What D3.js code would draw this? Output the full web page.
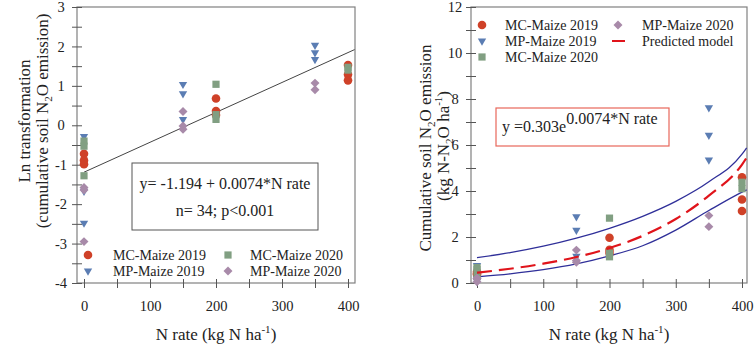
<!DOCTYPE html>
<html>
<head>
<meta charset="utf-8">
<script src="https://cdn.jsdelivr.net/npm/d3@7"></script>
<style>
  body { margin: 0; background: #fff; }
  svg, svg text { font-family: "Liberation Serif", "Times New Roman", serif; }
</style>
</head>
<body>
<svg id="chart" width="754" height="349" font-family="Liberation Serif"></svg>
<script>
// N rates and values (left: ln, right: kg N-N2O/ha)
const seriesNames = ["MC-Maize 2019", "MP-Maize 2019", "MC-Maize 2020", "MP-Maize 2020"];

const mc2019N  = [0, 0, 0, 200, 200, 200, 400, 400, 400];
const mc2019Ln = [-0.72, -0.89, -0.99, 0.68, 0.36, 0.26, 1.53, 1.29, 1.14];
const mc2019Kg = [0.49, 0.41, 0.37, 1.97, 1.44, 1.30, 4.60, 3.63, 3.13];

const mp2019N  = [0, 0, 0, 150, 150, 150, 350, 350, 350];
const mp2019Ln = [-0.28, -1.67, -2.48, 1.04, 0.80, 0.15, 2.03, 1.84, 1.67];
const mp2019Kg = [0.76, 0.19, 0.08, 2.88, 2.30, 1.17, 7.62, 6.43, 5.35];

const mc2020N  = [0, 0, 0, 200, 200, 200, 400, 400];
const mc2020Ln = [-0.40, -0.53, -1.28, 1.04, 0.27, 0.15, 1.47, 1.40];
const mc2020Kg = [0.67, 0.59, 0.28, 2.82, 1.30, 1.14, 4.38, 4.10];

const mp2020N  = [0, 0, 0, 150, 150, 150, 350, 350];
const mp2020Ln = [-1.58, -1.64, -2.95, 0.35, -0.02, -0.10, 1.07, 0.90];
const mp2020Kg = [0.21, 0.19, 0.05, 1.43, 0.98, 0.90, 2.93, 2.45];

// fitted line on the left panel (end points)
const regN  = [0, 410];
const regLn = [-1.19, 1.92];

// predicted model and its band on the right panel
const curveN    = [0, 50, 100, 150, 200, 250, 300, 350, 400, 407];
const predicted = [0.45, 0.62, 0.84, 1.13, 1.52, 2.05, 2.78, 3.80, 5.15, 5.45];
const upperBand = [1.10, 1.32, 1.60, 1.95, 2.38, 2.90, 3.55, 4.40, 5.60, 5.88];
const lowerBand = [0.27, 0.40, 0.58, 0.83, 1.18, 1.62, 2.30, 3.15, 3.95, 4.05];

const xTicks = d3.range(0, 401, 50);

const svg = d3.select('#chart');
const FONT = '"Liberation Serif", "Times New Roman", serif';

const colors = ['#cf4128', '#5b7db3', '#819f82', '#a88aa9'];
const symbols = [
  { type: d3.symbolCircle, size: 58, rotate: 0 },
  { type: d3.symbolTriangle, size: 30, rotate: 180 },
  { type: d3.symbolSquare, size: 52, rotate: 0 },
  { type: d3.symbolSquare, size: 40, rotate: 45 }
];

const series = [
  { n: mc2019N, ln: mc2019Ln, kg: mc2019Kg },
  { n: mp2019N, ln: mp2019Ln, kg: mp2019Kg },
  { n: mc2020N, ln: mc2020Ln, kg: mc2020Kg },
  { n: mp2020N, ln: mp2020Ln, kg: mp2020Kg }
].map((s, i) => Object.assign(s, { name: seriesNames[i], color: colors[i], sym: symbols[i] }));

function marker(g, s, x, y) {
  g.append('path')
    .attr('d', d3.symbol().type(s.sym.type).size(s.sym.size)())
    .attr('transform', `translate(${x},${y}) rotate(${s.sym.rotate})`)
    .attr('fill', s.color);
}

function label(x, y, size) {
  return svg.append('text')
    .attr('x', x).attr('y', y)
    .attr('font-family', FONT).attr('font-size', size).attr('fill', '#222');
}

function drawAxes(frame, x, y, yTicks, isLabelled) {
  svg.append('rect')
    .attr('x', frame.left).attr('y', frame.top)
    .attr('width', frame.right - frame.left)
    .attr('height', frame.bottom - frame.top)
    .attr('fill', 'none').attr('stroke', '#808080').attr('stroke-width', 1.2);

  const gx = svg.append('g')
    .attr('transform', `translate(0,${frame.bottom})`)
    .call(d3.axisBottom(x).tickValues(xTicks).tickSize(5)
      .tickFormat(d => d % 100 === 0 ? String(d) : ''));
  gx.select('.domain').remove();
  gx.attr('font-family', FONT).attr('font-size', 14.5).attr('color', '#222');
  gx.selectAll('.tick line').attr('y1', -4).attr('y2', 5).attr('stroke', '#555');
  gx.selectAll('.tick text').attr('y', 18);

  const gy = svg.append('g')
    .attr('transform', `translate(${frame.left},0)`)
    .call(d3.axisLeft(y).tickValues(yTicks).tickSize(5)
      .tickFormat(d => isLabelled(d) ? String(d) : ''));
  gy.select('.domain').remove();
  gy.attr('font-family', FONT).attr('font-size', 14.5).attr('color', '#222');
  gy.selectAll('.tick line').attr('x1', 5).attr('x2', -5).attr('stroke', '#555');
  gy.selectAll('.tick text').attr('x', -16).attr('text-anchor', 'middle');
}

function xTitle(cx) {
  const t = label(cx, 340, 17).attr('text-anchor', 'middle');
  t.append('tspan').text('N rate (kg N ha');
  t.append('tspan').attr('font-size', 11).attr('dy', -7).text('-1');
  t.append('tspan').attr('dy', 7).text(')');
}

function yTitle(cx, cy) {
  return svg.append('text')
    .attr('transform', `translate(${cx},${cy}) rotate(-90)`)
    .attr('text-anchor', 'middle')
    .attr('font-family', FONT).attr('font-size', 17).attr('fill', '#222');
}

// ---------- left panel ----------
const leftFrame = { left: 77, right: 355, top: 7, bottom: 283 };
const xL = d3.scaleLinear().domain([0, 400]).range([84, 348]);
const yL = d3.scaleLinear().domain([-4, 3]).range([leftFrame.bottom, leftFrame.top]);

drawAxes(leftFrame, xL, yL, d3.range(-4, 3.01, 0.5), d => d % 1 === 0);

svg.append('path')
  .attr('d', d3.line().x(d => xL(d[0])).y(d => yL(d[1]))(regN.map((n, i) => [n, regLn[i]])))
  .attr('fill', 'none').attr('stroke', '#444').attr('stroke-width', 1);

const leftPts = svg.append('g');
series.forEach(s => s.n.forEach((n, i) => marker(leftPts, s, xL(n), yL(s.ln[i]))));

svg.append('rect')
  .attr('x', 132).attr('y', 163).attr('width', 186).attr('height', 67)
  .attr('fill', '#fff').attr('stroke', '#555').attr('stroke-width', 1);
label(225, 189, 16).attr('text-anchor', 'middle').text('y= -1.194 + 0.0074*N rate');
label(225, 216, 16).attr('text-anchor', 'middle').text('n= 34; p<0.001');

const leftLegendPos = [[88, 255], [88, 271], [228, 255], [228, 271]];
const leftLegend = svg.append('g');
series.forEach((s, i) => {
  const [lx, ly] = leftLegendPos[i];
  marker(leftLegend, s, lx, ly);
  label(lx + (i < 2 ? 25 : 22), ly + 5, 14).text(s.name);
});

yTitle(30, 121).text('Ln transformation');
const ytL2 = yTitle(48, 121);
ytL2.append('tspan').text('(cumulative soil N');
ytL2.append('tspan').attr('font-size', 11).attr('dy', 4).text('2');
ytL2.append('tspan').attr('dy', -4).text('O emission)');

xTitle(216);

// ---------- right panel ----------
const rightFrame = { left: 471, right: 747, top: 7, bottom: 283 };
const xR = d3.scaleLinear().domain([0, 400]).range([477, 742]);
const yR = d3.scaleLinear().domain([0, 12]).range([rightFrame.bottom, rightFrame.top]);

drawAxes(rightFrame, xR, yR, d3.range(0, 13, 1), d => d % 2 === 0);

const curve = d3.line().curve(d3.curveMonotoneX).x(d => xR(d[0])).y(d => yR(d[1]));
[upperBand, lowerBand].forEach(band => {
  svg.append('path')
    .attr('d', curve(curveN.map((n, i) => [n, band[i]])))
    .attr('fill', 'none').attr('stroke', '#2f2f99').attr('stroke-width', 1.3);
});

const rightPts = svg.append('g');
series.forEach(s => s.n.forEach((n, i) => marker(rightPts, s, xR(n), yR(s.kg[i]))));

svg.append('path')
  .attr('d', curve(curveN.map((n, i) => [n, predicted[i]])))
  .attr('fill', 'none').attr('stroke', '#e0141b').attr('stroke-width', 2.2)
  .attr('stroke-dasharray', '15,7');

const rightLegendPos = [[482, 25], [482, 41], [482, 57], [618, 25]];
const rightLegend = svg.append('g');
series.forEach((s, i) => {
  const [lx, ly] = rightLegendPos[i];
  marker(rightLegend, s, lx, ly);
  label(lx + (i < 3 ? 23 : 24), ly + 5, 14).text(s.name);
});
rightLegend.append('line')
  .attr('x1', 612).attr('x2', 625).attr('y1', 41).attr('y2', 41)
  .attr('stroke', '#e0141b').attr('stroke-width', 2);
label(642, 46, 14).text('Predicted model');

svg.append('rect')
  .attr('x', 496).attr('y', 108).attr('width', 173).attr('height', 38)
  .attr('fill', 'none').attr('stroke', '#e8675a').attr('stroke-width', 1.2);
const eqR = label(502, 132, 16);
eqR.append('tspan').text('y =0.303e');
eqR.append('tspan').attr('dy', -8).text('0.0074*N rate');

const ytR = yTitle(431, 148);
ytR.append('tspan').text('Cumulative soil N');
ytR.append('tspan').attr('font-size', 11).attr('dy', 4).text('2');
ytR.append('tspan').attr('dy', -4).text('O emission');
const ytR2 = yTitle(449, 146);
ytR2.append('tspan').text('(kg N-N');
ytR2.append('tspan').attr('font-size', 11).attr('dy', 4).text('2');
ytR2.append('tspan').attr('dy', -4).text('O ha');
ytR2.append('tspan').attr('font-size', 11).attr('dy', -7).text('-1');
ytR2.append('tspan').attr('dy', 7).text(')');

xTitle(609);
</script>
</body>
</html>
